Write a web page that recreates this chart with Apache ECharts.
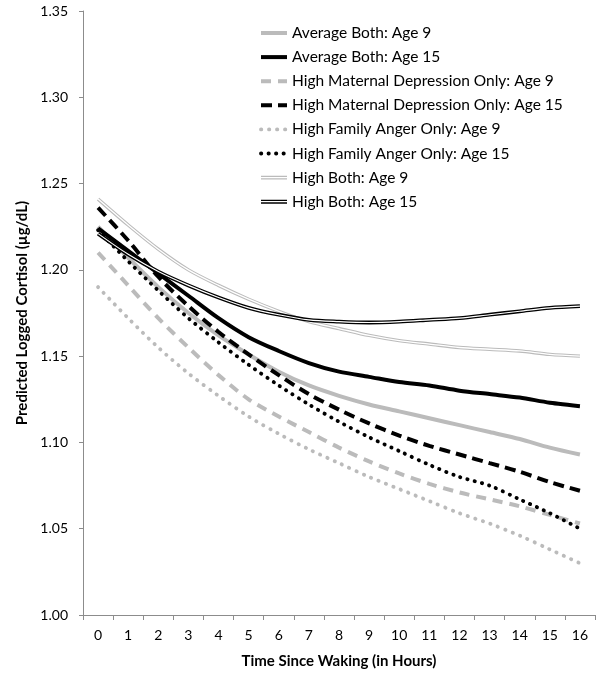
<!DOCTYPE html>
<html>
<head>
<meta charset="utf-8">
<script src="https://cdn.jsdelivr.net/npm/echarts@6/dist/echarts.min.js"></script>
<style>
  html, body { margin: 0; padding: 0; background: #fff; }
  #main { width: 602px; height: 682px; }
</style>
</head>
<body>
<div id="main"></div>
<script>
// hours since waking
const hours = ['0', '1', '2', '3', '4', '5', '6', '7', '8', '9', '10', '11', '12', '13', '14', '15', '16']
const yTicks = [1.00, 1.35, 0.05] // min, max, step

// predicted logged cortisol
const avgBoth9  = [1.225, 1.207, 1.190, 1.175, 1.162, 1.151, 1.141, 1.133, 1.127, 1.122, 1.118, 1.114, 1.110, 1.106, 1.102, 1.097, 1.093]
const avgBoth15 = [1.224, 1.211, 1.198, 1.185, 1.172, 1.161, 1.153, 1.146, 1.141, 1.138, 1.135, 1.133, 1.130, 1.128, 1.126, 1.123, 1.121]
const highMD9   = [1.210, 1.191, 1.172, 1.155, 1.139, 1.125, 1.115, 1.106, 1.097, 1.089, 1.082, 1.076, 1.071, 1.067, 1.063, 1.058, 1.053]
const highMD15  = [1.236, 1.217, 1.196, 1.179, 1.164, 1.151, 1.139, 1.128, 1.119, 1.111, 1.104, 1.098, 1.093, 1.088, 1.083, 1.077, 1.072]
const highFA9   = [1.190, 1.172, 1.155, 1.140, 1.127, 1.115, 1.105, 1.096, 1.088, 1.080, 1.073, 1.066, 1.059, 1.053, 1.046, 1.038, 1.030]
const highFA15  = [1.223, 1.205, 1.188, 1.172, 1.158, 1.145, 1.133, 1.122, 1.112, 1.103, 1.095, 1.087, 1.080, 1.075, 1.067, 1.059, 1.050]
const highBoth9 = [1.241, 1.226, 1.212, 1.200, 1.191, 1.183, 1.176, 1.170, 1.166, 1.162, 1.159, 1.157, 1.155, 1.154, 1.153, 1.151, 1.150]
const highBoth15 = [1.221, 1.209, 1.199, 1.191, 1.184, 1.178, 1.174, 1.171, 1.170, 1.1695, 1.170, 1.171, 1.172, 1.174, 1.176, 1.178, 1.179]

const GRAY = '#bbbbbb'
const BLACK = '#000000'
const FONT = 'Lato'

// line series helper
function line (name, data, color, width, type, cap) {
  return {
    name: name,
    type: 'line',
    data: data,
    symbol: 'none',
    smooth: 0.3,
    silent: true,
    itemStyle: { color: color },
    lineStyle: { color: color, width: width, type: type || 'solid', cap: cap || 'butt' }
  }
}

const series = [
  line('Average Both: Age 9', avgBoth9, GRAY, 4),
  line('Average Both: Age 15', avgBoth15, BLACK, 4),
  line('High Maternal Depression Only: Age 9', highMD9, GRAY, 4, [10, 7]),
  line('High Maternal Depression Only: Age 15', highMD15, BLACK, 4, [11, 6]),
  line('High Family Anger Only: Age 9', highFA9, GRAY, 3.8, [0.3, 7.7], 'round'),
  line('High Family Anger Only: Age 15', highFA15, BLACK, 3.8, [0.3, 7.2], 'round'),
  line('High Both: Age 9', highBoth9, GRAY, 3.4),
  line('hb9-inner', highBoth9, '#ffffff', 1.3),
  line('High Both: Age 15', highBoth15, BLACK, 3.8),
  line('hb15-inner', highBoth15, '#ffffff', 1.2)
]

const doubleIcon = 'path://M0,0H26V1.3H0Z M0,2.6H26V3.9H0Z'

const legendData = [
  { name: 'Average Both: Age 9' },
  { name: 'Average Both: Age 15' },
  { name: 'High Maternal Depression Only: Age 9' },
  { name: 'High Maternal Depression Only: Age 15' },
  { name: 'High Family Anger Only: Age 9' },
  { name: 'High Family Anger Only: Age 15' },
  { name: 'High Both: Age 9', icon: doubleIcon, itemStyle: { color: GRAY, opacity: 1 } },
  { name: 'High Both: Age 15', icon: doubleIcon, itemStyle: { color: BLACK, opacity: 1 } }
]

const chart = echarts.init(document.getElementById('main'))
chart.setOption({
  animation: false,
  backgroundColor: '#fff',
  textStyle: { fontFamily: FONT },
  grid: { left: 83, right: 7, top: 11, bottom: 67, containLabel: false },
  legend: {
    orient: 'vertical',
    left: 254,
    top: 20,
    itemWidth: 26,
    itemHeight: 14,
    itemGap: 8.1,
    selectedMode: false,
    data: legendData,
    itemStyle: { opacity: 0 },
    lineStyle: { width: 'inherit', type: 'inherit', cap: 'inherit' },
    textStyle: { fontFamily: FONT, fontSize: 15.5, color: '#000' }
  },
  xAxis: {
    type: 'category',
    data: hours,
    boundaryGap: true,
    name: 'Time Since Waking (in Hours)',
    nameLocation: 'middle',
    nameGap: 39,
    nameTextStyle: { fontFamily: FONT, fontSize: 15, fontWeight: 'bold', color: '#000' },
    axisLine: { lineStyle: { color: '#8c8c8c', width: 1 } },
    axisTick: { show: true, interval: 0, length: 5, lineStyle: { color: '#8c8c8c' } },
    axisLabel: { interval: 0, margin: 13, fontFamily: FONT, fontSize: 14, color: '#000' },
    splitLine: { show: false }
  },
  yAxis: {
    type: 'value',
    min: yTicks[0],
    max: yTicks[1],
    interval: yTicks[2],
    name: 'Predicted Logged Cortisol (\u00b5g/dL)',
    nameLocation: 'middle',
    nameGap: 52,
    nameTextStyle: { fontFamily: FONT, fontSize: 15, fontWeight: 'bold', color: '#000' },
    axisLine: { show: true, lineStyle: { color: '#8c8c8c', width: 1 } },
    axisTick: { show: true, length: 4, lineStyle: { color: '#8c8c8c' } },
    axisLabel: {
      margin: 15,
      fontFamily: FONT,
      fontSize: 14,
      color: '#000',
      formatter: v => v.toFixed(2)
    },
    splitLine: { show: false }
  },
  series: series
})
</script>
</body>
</html>
